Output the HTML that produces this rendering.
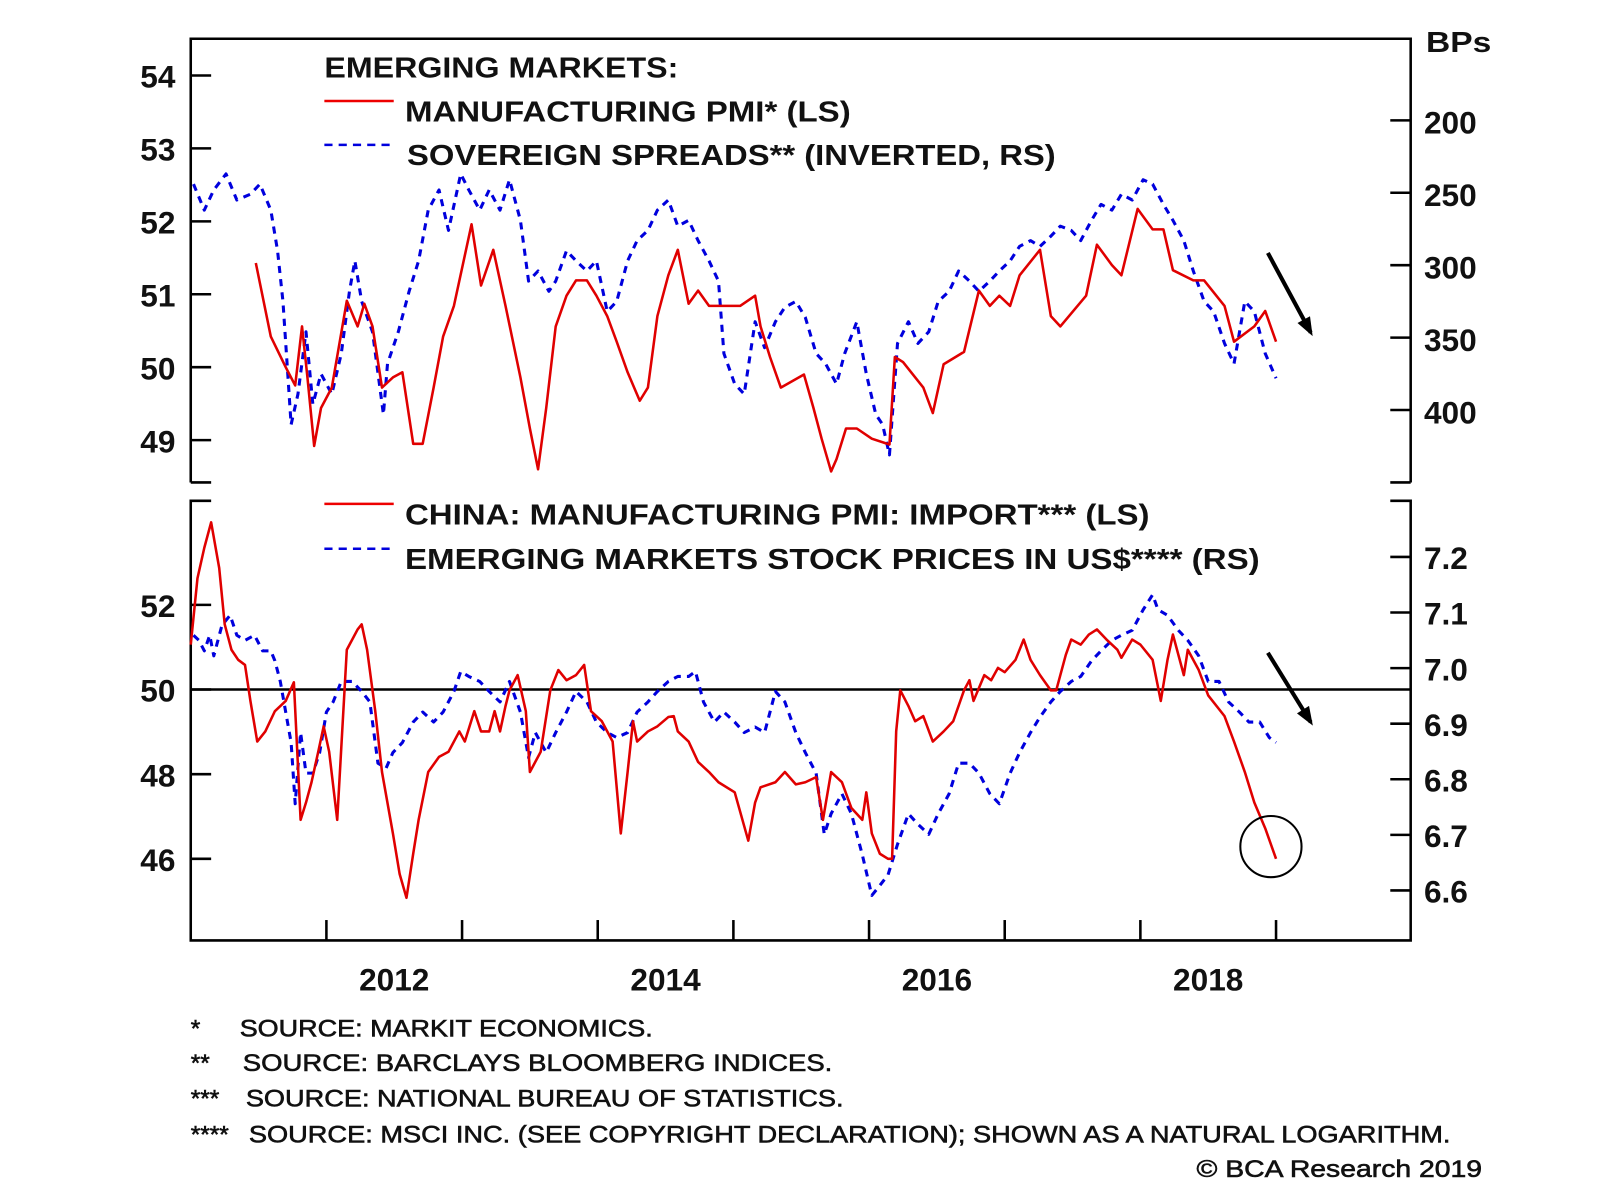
<!DOCTYPE html>
<html><head><meta charset="utf-8"><style>
html,body{margin:0;padding:0;background:#fff;}
svg{display:block;}
text{font-family:"Liberation Sans",Arial,sans-serif;fill:#111;}
.b{font-weight:bold;}
.fn{stroke:#111;stroke-width:0.6;}
</style></head><body>
<svg id="chart" width="1600" height="1199" viewBox="0 0 1568.6 1175.5" preserveAspectRatio="none" xmlns="http://www.w3.org/2000/svg">
<g id="frame"></g>
<g id="marks"></g>
<g id="labels">
<text class="b" x="318" y="76" font-size="28" textLength="347" lengthAdjust="spacingAndGlyphs">EMERGING MARKETS:</text>
<line x1="318" y1="99" x2="386" y2="99" stroke="#e00" stroke-width="2.5"/>
<text class="b" x="397" y="119" font-size="28" textLength="437" lengthAdjust="spacingAndGlyphs">MANUFACTURING PMI* (LS)</text>
<line x1="318" y1="142" x2="386" y2="142" stroke="#00d" stroke-width="2.5" stroke-dasharray="8,6"/>
<text class="b" x="399" y="162" font-size="28" textLength="636" lengthAdjust="spacingAndGlyphs">SOVEREIGN SPREADS** (INVERTED, RS)</text>
<line x1="318" y1="494" x2="386" y2="494" stroke="#e00" stroke-width="2.5"/>
<text class="b" x="397" y="514" font-size="28" textLength="730" lengthAdjust="spacingAndGlyphs">CHINA: MANUFACTURING PMI: IMPORT*** (LS)</text>
<line x1="318" y1="538" x2="386" y2="538" stroke="#00d" stroke-width="2.5" stroke-dasharray="8,6"/>
<text class="b" x="397" y="558" font-size="28" textLength="838" lengthAdjust="spacingAndGlyphs">EMERGING MARKETS STOCK PRICES IN US$**** (RS)</text>
<text class="b" x="1398" y="51" font-size="28" textLength="64" lengthAdjust="spacingAndGlyphs">BPs</text>
<text class="fn" x="187" y="1016" font-size="24">*</text>
<text class="fn" x="235" y="1016" font-size="24" textLength="405" lengthAdjust="spacingAndGlyphs">SOURCE: MARKIT ECONOMICS.</text>
<text class="fn" x="187" y="1050" font-size="24">**</text>
<text class="fn" x="238" y="1050" font-size="24" textLength="578" lengthAdjust="spacingAndGlyphs">SOURCE: BARCLAYS BLOOMBERG INDICES.</text>
<text class="fn" x="187" y="1085" font-size="24">***</text>
<text class="fn" x="241" y="1085" font-size="24" textLength="586" lengthAdjust="spacingAndGlyphs">SOURCE: NATIONAL BUREAU OF STATISTICS.</text>
<text class="fn" x="187" y="1120" font-size="24">****</text>
<text class="fn" x="244" y="1120" font-size="24" textLength="1178" lengthAdjust="spacingAndGlyphs">SOURCE: MSCI INC. (SEE COPYRIGHT DECLARATION); SHOWN AS A NATURAL LOGARITHM.</text>
<text class="fn" x="1453" y="1154" font-size="24" text-anchor="end" textLength="280" lengthAdjust="spacingAndGlyphs">© BCA Research 2019</text>
</g>
</svg>
<script>
const topPmiDates=[2011.48,2011.59,2011.70,2011.77,2011.82,2011.86,2011.91,2011.96,2012.04,2012.15,2012.23,2012.28,2012.34,2012.41,2012.49,2012.56,2012.64,2012.71,2012.79,2012.86,2012.94,2013.07,2013.14,2013.23,2013.32,2013.43,2013.50,2013.56,2013.62,2013.69,2013.77,2013.84,2013.92,2013.99,2014.07,2014.14,2014.22,2014.31,2014.37,2014.44,2014.52,2014.59,2014.67,2014.74,2014.82,2015.05,2015.16,2015.20,2015.27,2015.35,2015.52,2015.59,2015.65,2015.72,2015.76,2015.83,2015.91,2016.02,2016.15,2016.19,2016.25,2016.40,2016.47,2016.55,2016.70,2016.81,2016.89,2016.96,2017.04,2017.11,2017.26,2017.34,2017.41,2017.60,2017.68,2017.79,2017.86,2017.98,2018.09,2018.17,2018.24,2018.39,2018.47,2018.62,2018.69,2018.84,2018.92,2019.00];
const topPmiValues=[51.43,50.42,50.0,49.75,50.56,49.86,48.92,49.44,49.72,50.91,50.56,50.87,50.56,49.72,49.86,49.93,48.95,48.95,49.72,50.42,50.84,51.96,51.12,51.61,50.84,49.86,49.16,48.60,49.44,50.56,50.98,51.19,51.19,50.98,50.70,50.35,49.93,49.54,49.72,50.70,51.26,51.61,50.87,51.05,50.84,50.84,50.98,50.56,50.14,49.72,49.90,49.44,49.02,48.57,48.74,49.16,49.16,49.02,48.94,50.14,50.07,49.72,49.37,50.04,50.21,51.05,50.84,50.98,50.84,51.26,51.61,50.70,50.56,50.98,51.68,51.40,51.26,52.17,51.89,51.89,51.33,51.19,51.19,50.84,50.35,50.56,50.77,50.35];
const spreadDates=[2011.02,2011.10,2011.17,2011.26,2011.34,2011.44,2011.51,2011.59,2011.64,2011.68,2011.74,2011.79,2011.85,2011.90,2011.96,2012.04,2012.11,2012.17,2012.21,2012.26,2012.34,2012.42,2012.45,2012.53,2012.61,2012.68,2012.75,2012.83,2012.90,2012.99,2013.05,2013.13,2013.20,2013.28,2013.35,2013.43,2013.49,2013.56,2013.64,2013.69,2013.77,2013.84,2013.92,2013.99,2014.07,2014.14,2014.22,2014.29,2014.37,2014.44,2014.52,2014.59,2014.67,2014.74,2014.82,2014.89,2014.93,2015.01,2015.08,2015.16,2015.23,2015.31,2015.38,2015.46,2015.53,2015.61,2015.68,2015.76,2015.82,2015.91,2015.98,2016.05,2016.10,2016.15,2016.21,2016.29,2016.36,2016.44,2016.51,2016.59,2016.66,2016.74,2016.81,2016.89,2016.96,2017.04,2017.11,2017.19,2017.26,2017.34,2017.41,2017.49,2017.56,2017.64,2017.71,2017.79,2017.86,2017.94,2018.02,2018.09,2018.17,2018.24,2018.32,2018.39,2018.47,2018.54,2018.62,2018.69,2018.77,2018.84,2018.92,2019.00];
const spreadValues=[244,262,248,237,255,251,244,262,290,325,410,389,346,396,375,389,361,318,297,325,346,403,368,346,318,297,262,248,276,237,248,262,248,262,241,269,311,304,318,311,290,297,304,297,332,325,297,283,276,262,255,273,269,283,297,311,361,382,389,339,357,339,329,325,336,361,368,382,361,339,375,403,410,431,354,339,354,346,325,318,304,311,318,311,304,297,287,283,287,280,273,276,283,269,258,262,251,255,241,244,258,269,283,304,325,332,354,368,325,332,361,378];
const importDates=[2011.00,2011.05,2011.10,2011.15,2011.21,2011.25,2011.30,2011.35,2011.40,2011.44,2011.49,2011.55,2011.62,2011.70,2011.76,2011.81,2011.85,2011.89,2011.94,2011.98,2012.02,2012.08,2012.15,2012.23,2012.26,2012.30,2012.36,2012.41,2012.49,2012.54,2012.59,2012.64,2012.68,2012.75,2012.83,2012.90,2012.98,2013.02,2013.09,2013.14,2013.20,2013.24,2013.28,2013.32,2013.35,2013.41,2013.47,2013.50,2013.58,2013.65,2013.71,2013.77,2013.84,2013.90,2013.95,2014.03,2014.11,2014.17,2014.22,2014.26,2014.29,2014.37,2014.44,2014.52,2014.56,2014.59,2014.67,2014.74,2014.82,2014.89,2015.01,2015.11,2015.16,2015.20,2015.31,2015.38,2015.46,2015.53,2015.61,2015.66,2015.72,2015.80,2015.87,2015.95,2015.98,2016.02,2016.08,2016.14,2016.17,2016.20,2016.23,2016.29,2016.34,2016.40,2016.47,2016.55,2016.62,2016.70,2016.74,2016.77,2016.85,2016.90,2016.95,2017.00,2017.08,2017.14,2017.19,2017.26,2017.34,2017.38,2017.45,2017.49,2017.56,2017.62,2017.68,2017.75,2017.83,2017.86,2017.94,2018.00,2018.09,2018.15,2018.20,2018.24,2018.32,2018.35,2018.43,2018.50,2018.62,2018.69,2018.77,2018.84,2018.92,2019.00];
const importValues=[51.06,52.63,53.35,53.95,52.87,51.54,50.94,50.70,50.58,49.73,48.77,49.01,49.49,49.73,50.17,46.92,47.33,47.81,48.53,49.13,48.53,46.92,50.94,51.42,51.54,50.94,49.49,48.05,46.60,45.64,45.08,46.12,46.92,48.05,48.41,48.53,49.01,48.77,49.49,49.01,49.01,49.49,49.01,49.61,49.98,50.34,49.49,48.05,48.53,49.98,50.46,50.22,50.34,50.58,49.49,49.25,48.77,46.60,48.05,49.25,48.77,49.01,49.13,49.35,49.37,49.01,48.77,48.29,48.05,47.81,47.57,46.43,47.33,47.69,47.81,48.05,47.76,47.81,47.93,46.92,48.05,47.81,47.20,46.92,47.57,46.60,46.12,46.00,46.00,49.01,49.98,49.61,49.25,49.37,48.77,49.01,49.25,49.98,50.22,49.73,50.34,50.22,50.51,50.41,50.70,51.18,50.70,50.34,49.98,49.98,50.82,51.18,51.06,51.30,51.42,51.18,50.94,50.75,51.18,51.06,50.70,49.73,50.70,51.30,50.34,50.94,50.46,49.86,49.37,48.77,48.05,47.33,46.72,46.00];
const stockDates=[2011.02,2011.06,2011.10,2011.14,2011.17,2011.23,2011.29,2011.34,2011.40,2011.47,2011.53,2011.59,2011.62,2011.66,2011.70,2011.74,2011.77,2011.81,2011.85,2011.90,2011.95,2012.00,2012.05,2012.11,2012.19,2012.26,2012.32,2012.38,2012.44,2012.49,2012.56,2012.64,2012.71,2012.79,2012.86,2012.94,2012.99,2013.05,2013.13,2013.20,2013.28,2013.35,2013.43,2013.49,2013.54,2013.62,2013.69,2013.77,2013.84,2013.92,2013.99,2014.07,2014.14,2014.22,2014.29,2014.37,2014.44,2014.52,2014.59,2014.67,2014.72,2014.78,2014.86,2014.93,2015.01,2015.08,2015.16,2015.23,2015.31,2015.38,2015.46,2015.53,2015.61,2015.67,2015.72,2015.80,2015.87,2015.95,2016.02,2016.08,2016.14,2016.21,2016.29,2016.36,2016.44,2016.51,2016.59,2016.66,2016.74,2016.81,2016.89,2016.96,2017.04,2017.11,2017.19,2017.26,2017.34,2017.41,2017.49,2017.56,2017.64,2017.71,2017.79,2017.86,2017.94,2018.02,2018.09,2018.13,2018.20,2018.28,2018.35,2018.43,2018.50,2018.58,2018.65,2018.73,2018.80,2018.88,2018.95,2019.00];
const stockValues=[7.059,7.050,7.031,7.059,7.022,7.077,7.095,7.059,7.050,7.059,7.031,7.031,7.013,6.976,6.921,6.866,6.756,6.884,6.811,6.811,6.848,6.921,6.939,6.976,6.976,6.958,6.939,6.829,6.820,6.848,6.866,6.903,6.921,6.903,6.921,6.958,6.994,6.985,6.976,6.958,6.939,6.976,6.921,6.839,6.884,6.848,6.884,6.921,6.958,6.939,6.903,6.884,6.875,6.884,6.921,6.939,6.958,6.976,6.985,6.985,6.994,6.939,6.903,6.921,6.903,6.884,6.894,6.884,6.958,6.939,6.884,6.848,6.811,6.701,6.738,6.774,6.738,6.664,6.591,6.609,6.628,6.683,6.738,6.719,6.701,6.738,6.774,6.829,6.829,6.811,6.774,6.756,6.811,6.848,6.884,6.912,6.939,6.958,6.976,6.985,7.013,7.031,7.050,7.059,7.068,7.105,7.132,7.105,7.095,7.068,7.050,7.022,6.976,6.976,6.939,6.921,6.903,6.903,6.875,6.866];
const topLeftTicks=[54,53,52,51,50,49];
const topRightTicks=[200,250,300,350,400];
const botLeftTicks=[52,50,48,46];
const botRightTicks=[7.2,7.1,7.0,6.9,6.8,6.7,6.6];
const yearTicks=[2012,2013,2014,2015,2016,2017,2018,2019];
const yearLabels=[2012,2014,2016,2018];

const NS='http://www.w3.org/2000/svg';
const X0=187,X1=1383;
const xs=t=>X0+(t-2011)*133;
const yTopL=v=>360-(v-50)*71.5;
const yTopR=s=>118+(s-200)*1.42;
const yBotL=v=>676-(v-50)*41.5;
const yBotR=r=>655-(r-7.0)*545;
function el(tag,attrs,parent){const e=document.createElementNS(NS,tag);for(const k in attrs)e.setAttribute(k,attrs[k]);parent.appendChild(e);return e;}
const frame=document.getElementById('frame'),marks=document.getElementById('marks'),labels=document.getElementById('labels');
const ax={stroke:'#000','stroke-width':2.5,fill:'none'};
let p=el('path',Object.assign({d:`M${X0},473 L${X0},38 L${X1},38 L${X1},473 M${X0},473 L${X0+20},473 M${X1},473 L${X1-20},473`},ax),frame);


p=el('path',Object.assign({d:`M${X0+20},491 L${X0},491 L${X0},922 L${X1},922 L${X1},491 L${X1-20},491`},ax),frame);


p=el('line',{x1:X0,x2:X1,y1:yBotL(50),y2:yBotL(50),stroke:'#000','stroke-width':2.5},frame);


function tickLabel(x,y,txt,anchor,size,name){const t=el('text',{x:x,y:y,'font-size':size,'text-anchor':anchor,class:'b'},labels);t.textContent=txt;

}
topLeftTicks.forEach(v=>{const y=yTopL(v);const l=el('line',{x1:X0,x2:X0+20,y1:y,y2:y,stroke:'#000','stroke-width':2.5},frame);


tickLabel(172,y+12,String(v),'end',31,'top-left-tick-label');});
topRightTicks.forEach(v=>{const y=yTopR(v);const l=el('line',{x1:X1-20,x2:X1,y1:y,y2:y,stroke:'#000','stroke-width':2.5},frame);


tickLabel(1396,y+13,String(v),'start',31,'top-right-tick-label');});
botLeftTicks.forEach(v=>{const y=yBotL(v);const l=el('line',{x1:X0,x2:X0+20,y1:y,y2:y,stroke:'#000','stroke-width':2.5},frame);


tickLabel(172,y+12,String(v),'end',31,'bottom-left-tick-label');});
botRightTicks.forEach(v=>{const y=yBotR(v);const l=el('line',{x1:X1-20,x2:X1,y1:y,y2:y,stroke:'#000','stroke-width':2.5},frame);


tickLabel(1396,y+12,v.toFixed(1),'start',31,'bottom-right-tick-label');});
yearTicks.forEach(yr=>{const x=xs(yr);const l=el('line',{x1:x,x2:x,y1:902,y2:922,stroke:'#000','stroke-width':2.5},frame);

});
yearLabels.forEach(yr=>tickLabel(xs(yr+0.5),971,String(yr),'middle',31,'x-tick-label'));
function series(dates,vals,yf,color,dash,name){const n=Math.min(dates.length,vals.length);let d='';for(let i=0;i<n;i++)d+=(i?'L':'M')+xs(dates[i]).toFixed(1)+','+yf(vals[i]).toFixed(1);
const a={d:d,fill:'none',stroke:color,'stroke-width':dash?3:2.5,'stroke-linejoin':'round'};if(dash)a['stroke-dasharray']=dash;const s=el('path',a,marks);

}
series(spreadDates,spreadValues,yTopR,'#0000dd','7,6','sovereign-spreads-line');
series(topPmiDates,topPmiValues,yTopL,'#e00000',null,'em-pmi-line');
series(stockDates,stockValues,yBotR,'#0000dd','7,6','em-stocks-line');
series(importDates,importValues,yBotL,'#e00000',null,'china-import-pmi-line');
function arrow(x1,y1,x2,y2,name){const g=el('g',{},marks);


el('line',{x1:x1,y1:y1,x2:x2,y2:y2,stroke:'#000','stroke-width':4},g);
const ang=Math.atan2(y2-y1,x2-x1),h=16;
const pts=[[x2+4*Math.cos(ang),y2+4*Math.sin(ang)],[x2-h*Math.cos(ang-0.45),y2-h*Math.sin(ang-0.45)],[x2-h*Math.cos(ang+0.45),y2-h*Math.sin(ang+0.45)]];
el('polygon',{points:pts.map(q=>q.join(',')).join(' '),fill:'#000'},g);}
arrow(1243,248,1285,326,'top-down-arrow');
arrow(1243,640,1285,708,'bottom-down-arrow');
const c=el('circle',{cx:1246,cy:830,r:30,fill:'none',stroke:'#000','stroke-width':2},marks);


</script>
</body></html>
